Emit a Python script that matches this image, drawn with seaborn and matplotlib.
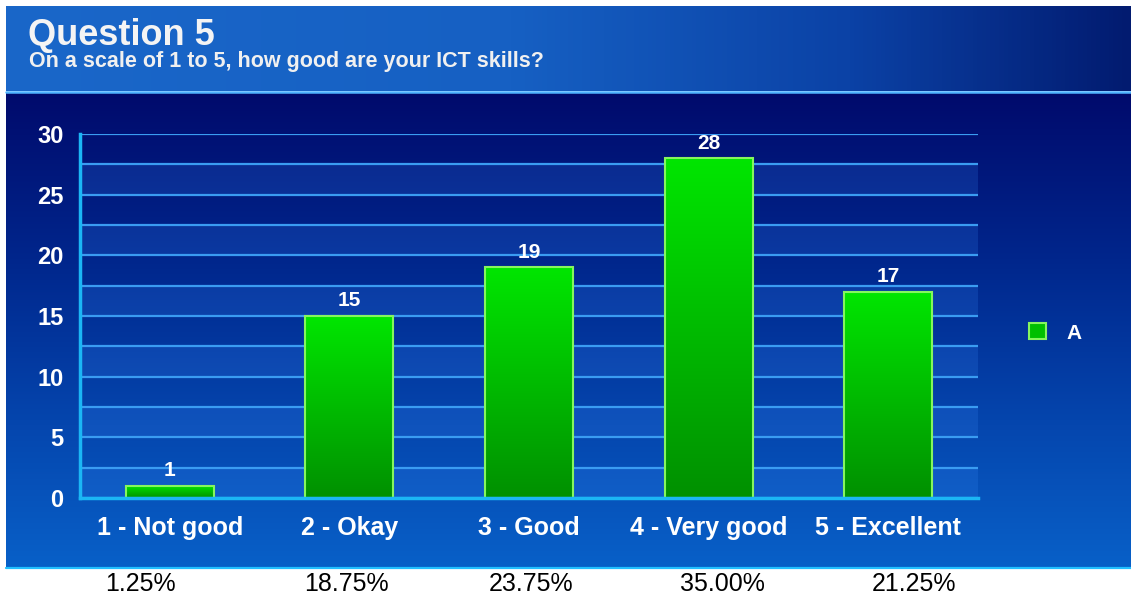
import numpy as np
import matplotlib
matplotlib.use("Agg")
import matplotlib.pyplot as plt
from matplotlib.colors import LinearSegmentedColormap
from matplotlib.patches import Patch
import seaborn as sns

# chart data
categories = ["1 - Not good", "2 - Okay", "3 - Good", "4 - Very good", "5 - Excellent"]
counts = [1, 15, 19, 28, 17]
percent_labels = ["1.25%", "18.75%", "23.75%", "35.00%", "21.25%"]
series_name = "A"
title = "Question 5"
subtitle = "On a scale of 1 to 5, how good are your ICT skills?"

W, H = 1131, 598

sns.set_theme(style="white")
plt.rcParams['font.family'] = ['Liberation Sans', 'DejaVu Sans']

fig = plt.figure(figsize=(W / 100, H / 100), dpi=100, facecolor='white')

# slide background, drawn in pixel coordinates
bg = fig.add_axes([0, 0, 1, 1], zorder=-10)
bg.set_xlim(0, W)
bg.set_ylim(H, 0)
bg.axis('off')

header_cmap = LinearSegmentedColormap.from_list(
    'header', [(0, '#1a67c9'), (0.45, '#1660c3'), (0.75, '#0b42a6'), (1, '#021b70')])
bg.imshow(np.linspace(0, 1, 256).reshape(1, -1), cmap=header_cmap,
          extent=(6, W, 91, 6), aspect='auto')

body_cmap = LinearSegmentedColormap.from_list(
    'body', [(0, '#000a6c'), (0.35, '#00268c'), (0.7, '#0546ae'), (1, '#0860c8')])
bg.imshow(np.linspace(0, 1, 256).reshape(-1, 1), cmap=body_cmap,
          extent=(6, W, 568, 92), aspect='auto', origin='upper')

bg.plot([6, W], [92, 92], color='#4fb4ff', lw=1.8)
bg.plot([6, W], [567.5, 567.5], color='#22c0ff', lw=1.6)

fig.text(28 / W, 1 - 45 / H, title, color='#f4f4f4', fontsize=26,
         fontweight='bold', va='baseline', ha='left')
fig.text(29 / W, 1 - 67 / H, subtitle, color='#f0f0f0', fontsize=15.5,
         fontweight='bold', va='baseline', ha='left')

# chart area
ax = fig.add_axes([80 / W, 100 / H, 898 / W, 364 / H])
ax.patch.set_alpha(0)

# lighter alternating bands
for lo in np.arange(0, 30, 5):
    ax.axhspan(lo, lo + 2.5, color='#3d8fff', alpha=0.18, lw=0, zorder=0)

sns.barplot(x=categories, y=counts, width=0.49, ax=ax, zorder=3)
bars = ax.containers[0]

bar_cmap = LinearSegmentedColormap.from_list('bar', ['#009000', '#00e600'])
for patch in bars.patches:
    x0, y0 = patch.get_xy()
    w, h = patch.get_width(), patch.get_height()
    im = ax.imshow(np.linspace(0, 1, 256).reshape(-1, 1), cmap=bar_cmap,
                   extent=(x0, x0 + w, y0, y0 + h), aspect='auto',
                   origin='lower', zorder=3)
    im.set_clip_path(patch)
    patch.set_facecolor('none')
    patch.set_edgecolor('#86f55e')
    patch.set_linewidth(1.5)
    patch.set_zorder(4)

ax.bar_label(bars, padding=4, color='white', fontsize=15, fontweight='bold')

ax.set_xlim(-0.5, 4.5)
ax.set_ylim(0, 30)
ax.set_aspect('auto')

axis_color = '#1bb6f5'
ax.set_yticks(np.arange(0, 31, 5))
ax.set_yticks(np.arange(2.5, 30, 5), minor=True)
ax.set_xticks(range(len(categories)))
ax.set_xticklabels(categories)
ax.set_xticks(np.arange(-0.5, 5, 1), minor=True)
ax.grid(axis='y', which='both', color='#3a9cf2', lw=1.6, zorder=1)
ax.grid(axis='x', visible=False)
ax.set_axisbelow(True)

ax.tick_params(axis='y', which='major', length=8, width=2, color=axis_color,
               labelcolor='white', labelsize=17, pad=4)
ax.tick_params(axis='y', which='minor', length=0)
ax.tick_params(axis='x', which='major', length=0, labelcolor='white',
               labelsize=18, pad=13)
ax.tick_params(axis='x', which='minor', length=8, width=2, color=axis_color)
for lab in ax.get_xticklabels() + ax.get_yticklabels():
    lab.set_fontweight('bold')

for side in ['top', 'right']:
    ax.spines[side].set_visible(False)
for side in ['left', 'bottom']:
    ax.spines[side].set_color(axis_color)
    ax.spines[side].set_linewidth(2.5)
    ax.spines[side].set_zorder(5)
ax.set_xlabel('')
ax.set_ylabel('')

fig.legend(handles=[Patch(facecolor='#00c000', edgecolor='#86f55e', lw=1.5)],
           labels=[series_name], loc='center left',
           bbox_to_anchor=(1029 / W, 1 - 333 / H), frameon=False,
           handlelength=0.8, handleheight=0.8, handletextpad=1.0,
           borderaxespad=0, borderpad=0,
           prop={'size': 15, 'weight': 'bold'}, labelcolor='white')

# percentages under the slide
pct_x = [140, 346, 531, 722, 914]
for px, lab in zip(pct_x, percent_labels):
    fig.text(px / W, 1 - 584 / H, lab, color='black', fontsize=18,
             ha='center', va='center')

fig.savefig('out.png', dpi=100, facecolor='white')
